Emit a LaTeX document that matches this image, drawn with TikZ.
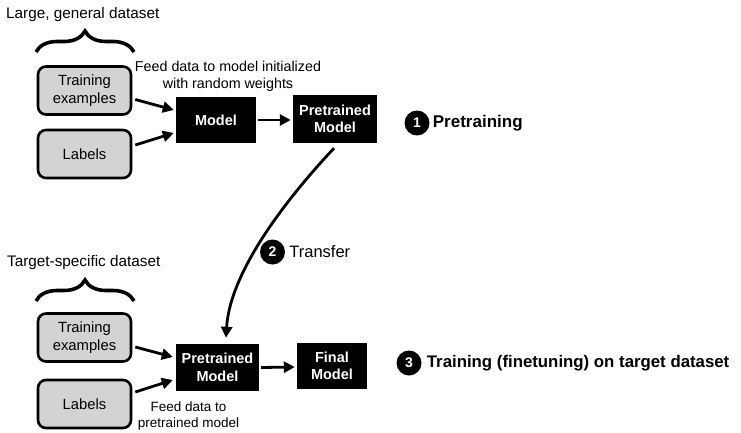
\documentclass[tikz,border=0pt]{standalone}
\usepackage{fontspec}
\setmainfont{Liberation Sans}
\usetikzlibrary{arrows.meta,calc,decorations.pathreplacing}

\definecolor{boxgray}{HTML}{D3D3D3}

\tikzset{
  databox/.style={draw=black, line width=2.6pt, rounded corners=8pt, fill=boxgray,
    minimum width=93pt, minimum height=48pt, align=center, inner sep=0pt,
    font=\fontsize{14.8}{17.5}\selectfont},
  modelbox/.style={fill=black, text=white, align=center, inner sep=0pt,
    font=\bfseries\fontsize{14.5}{17.5}\selectfont},
  numdot/.style={circle, fill=black, text=white, minimum size=25pt, inner sep=0pt,
    font=\bfseries\fontsize{14}{16}\selectfont},
  flow/.style={line width=2.8pt, -{Triangle[length=11pt,width=11pt]}},
  bigbrace/.style={decorate, decoration={brace, amplitude=21pt}, line width=3.6pt},
  note/.style={align=center, inner sep=0pt},
}

\begin{document}
\begin{tikzpicture}[x=1pt, y=-1pt]
  \useasboundingbox (0,0) rectangle (741,433);

  % ---- stage 1: pretraining ----
  \node[anchor=base west, inner sep=0pt, font=\fontsize{15.3}{18}\selectfont] (dsA) at (6,19) {Large, general dataset};
  \coordinate (braceAl) at (36,52);
  \coordinate (braceAr) at (134,52);
  \draw[bigbrace] (braceAl) -- (braceAr);

  \node[databox] (trA) at (84.5,90.5) {Training\\examples};
  \node[databox] (lbA) at (84.5,154) {Labels};
  \node[modelbox, minimum width=80pt, minimum height=46pt] (model) at (216,120) {Model};
  \node[modelbox, minimum width=84pt, minimum height=48pt] (ptA) at (335,119) {Pretrained\\Model};

  \node[note, font=\fontsize{14.3}{17}\selectfont] (feedA) at (228,76) {Feed data to model initialized\\with random weights};

  \draw[flow] ($(trA.east)+(3,9)$) -- ($(model.west)+(-2,-10)$);
  \draw[flow] ($(lbA.east)+(3,-9)$) -- ($(model.west)+(-2,13)$);
  \draw[flow] ($(model.east)+(2,0)$) -- ($(ptA.west)+(-2,1)$);

  \node[numdot] (n1) at (417,123) {1};
  \node[anchor=west, inner sep=0pt, font=\bfseries\fontsize{17}{20}\selectfont] (lab1) at ($(n1.east)+(3,0)$) {Pretraining};

  % ---- stage 3: finetuning ----
  \node[anchor=base west, inner sep=0pt, font=\fontsize{15.3}{18}\selectfont] (dsB) at (7,266) {Target-specific dataset};
  \coordinate (braceBl) at (36,301);
  \coordinate (braceBr) at (134,301);
  \draw[bigbrace] (braceBl) -- (braceBr);

  \node[databox] (trB) at (84.5,337.5) {Training\\examples};
  \node[databox] (lbB) at (84.5,404) {Labels};
  \node[modelbox, minimum width=83pt, minimum height=47pt] (ptB) at (217.5,367.5) {Pretrained\\Model};
  \node[modelbox, minimum width=70pt, minimum height=46pt] (final) at (332,366) {Final\\Model};

  \node[note, font=\fontsize{13.5}{16}\selectfont] (feedB) at (188.5,416) {Feed data to\\pretrained model};

  \draw[flow] ($(trB.east)+(3,9.5)$) -- ($(ptB.west)+(-3,-10.5)$);
  \draw[flow] ($(lbB.east)+(3,-12)$) -- ($(ptB.west)+(-3,12.5)$);
  \draw[flow] ($(ptB.east)+(2,0)$) -- ($(final.west)+(-2,1)$);

  \node[numdot] (n3) at (409,363) {3};
  \node[anchor=west, inner sep=0pt, font=\bfseries\fontsize{16.8}{20}\selectfont] (lab3) at ($(n3.east)+(5,0)$) {Training (finetuning) on target dataset};

  % ---- stage 2: transfer ----
  \draw[flow] ($(ptA.south)+(-1,5)$) .. controls (290,195) and (230,270) .. ($(ptB.north)+(8.5,-6)$);
  \node[numdot] (n2) at (272.5,252) {2};
  \node[anchor=west, inner sep=0pt, font=\fontsize{16.5}{20}\selectfont] (lab2) at ($(n2.east)+(4,0)$) {Transfer};
\end{tikzpicture}
\end{document}
